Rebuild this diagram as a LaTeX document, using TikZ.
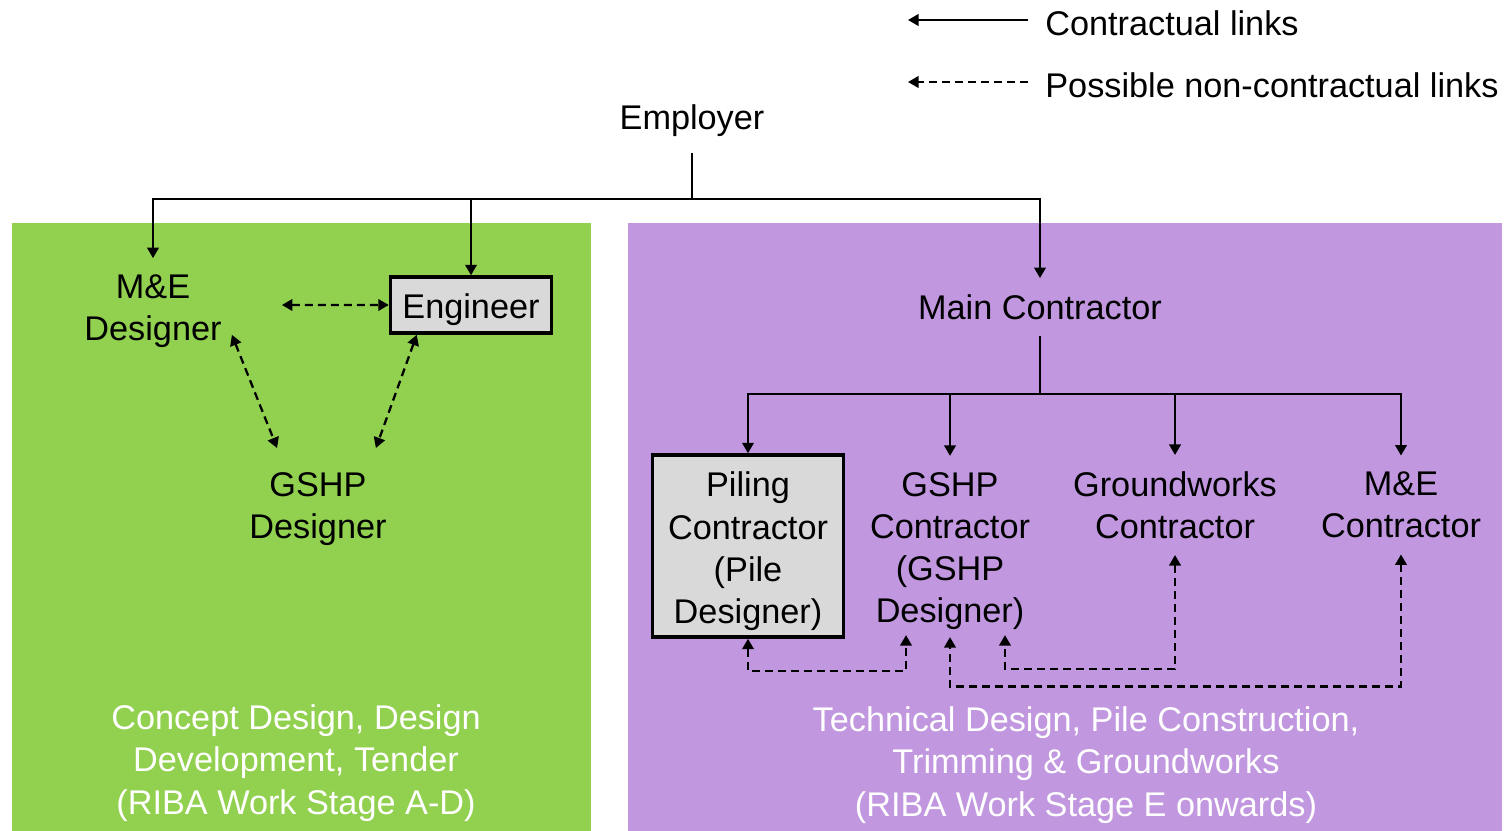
\documentclass[tikz,border=0pt]{standalone}
\usepackage{fontspec}
\setmainfont{Liberation Sans}
\usetikzlibrary{arrows.meta, positioning}
\definecolor{stagegreen}{HTML}{92D050}
\definecolor{stagepurple}{HTML}{C197DF}
\definecolor{boxgray}{HTML}{D9D9D9}

\begin{document}
\begin{tikzpicture}[
    x=0.02cm, y=-0.02cm,
    lbl/.style={align=center, inner sep=0.32cm, font=\fontsize{19.5}{24}\selectfont},
    wlbl/.style={lbl, text=white},
    gbox/.style={rectangle, draw=black, line width=2pt, fill=boxgray, align=center,
                 inner sep=0pt, font=\fontsize{19.5}{24}\selectfont},
    arr/.style={-{Triangle[length=0.21cm,width=0.23cm]}, line width=1.3pt},
    darr/.style={{Triangle[length=0.21cm,width=0.23cm]}-{Triangle[length=0.21cm,width=0.23cm]},
                 line width=1.3pt, dash pattern=on 0.16cm off 0.1cm}
]
\useasboundingbox (0,0) rectangle (1508,831);
\fill[stagegreen]  (12,223) rectangle (591,831);
\fill[stagepurple] (628,223) rectangle (1502,831);

\node[lbl]  (emp)  at (692,121) {Employer};
\node[lbl]  (med)  at (153,311) {M\&E\\Designer};
\node[gbox, text height=0.69cm, minimum width=3.22cm, minimum height=1.12cm] (eng) at (471,305) {Engineer};
\node[lbl]  (gdes) at (318,509) {GSHP\\Designer};
\node[lbl]  (mc)   at (1040,307) {Main Contractor};
\node[gbox, text height=3.24cm, minimum width=3.82cm, minimum height=3.64cm] (pil) at (748,546) {Piling\\Contractor\\(Pile\\Designer)};
\node[lbl]  (gcon) at (950,551) {GSHP\\Contractor\\(GSHP\\Designer)};
\node[lbl]  (gw)   at (1175,505) {Groundworks\\Contractor};
\node[lbl]  (mec)  at (1401,505) {M\&E\\Contractor};
\node[wlbl] (stA)  at (296,763) {Concept Design, Design\\Development, Tender\\(RIBA Work Stage A-D)};
\node[wlbl] (stE)  at (1086,765) {Technical Design, Pile Construction,\\Trimming \& Groundworks\\(RIBA Work Stage E onwards)};

% legend
\node[lbl, anchor=base west, inner sep=0pt] (lg1) at (1045,36) {Contractual links};
\node[lbl, anchor=base west, inner sep=0pt] (lg2) at (1045,98) {Possible non-contractual links};
\coordinate (l1a) at (1028,20);
\coordinate (l1b) at (908,20);
\coordinate (l2a) at (1028,82);
\coordinate (l2b) at (908,82);
\draw[arr] (l1a) -- (l1b);
\draw[arr, dash pattern=on 0.16cm off 0.1cm] (l2a) -- (l2b);

% contractual links
\coordinate (jn) at (692,199);
\draw[line width=1.3pt] (emp.south) -- (jn);
\draw[arr] (jn) -| (med);
\draw[arr] (jn) -| (eng);
\draw[arr] (jn) -| (mc);
\coordinate (jn2) at (1040,394);
\draw[line width=1.3pt] (mc.south) -- (jn2);
\draw[arr] (jn2) -| (pil);
\draw[arr] (jn2) -| (gcon);
\draw[arr] (jn2) -| (gw);
\draw[arr] (jn2) -| (mec);

% non-contractual links
\draw[darr] ([xshift=0.88cm,yshift=0.12cm]med.east) -- (eng.west);
\draw[darr] ([xshift=-0.12cm,yshift=0.58cm]med.south east) -- ([xshift=0.88cm,yshift=0.16cm]gdes.north west);
\draw[darr] ([xshift=0.56cm]eng.south west) -- ([xshift=-0.54cm,yshift=0.16cm]gdes.north east);
\draw[darr] (pil.south) -- ++(0,32) -| ([xshift=-0.88cm,yshift=0.22cm]gcon.south);
\draw[darr] (gw.south) -- ++(0,114) -| ([xshift=1.1cm,yshift=0.22cm]gcon.south);
\draw[darr] (mec.south) -- ++(0,132) -| ([yshift=0.18cm]gcon.south);
\end{tikzpicture}
\end{document}
